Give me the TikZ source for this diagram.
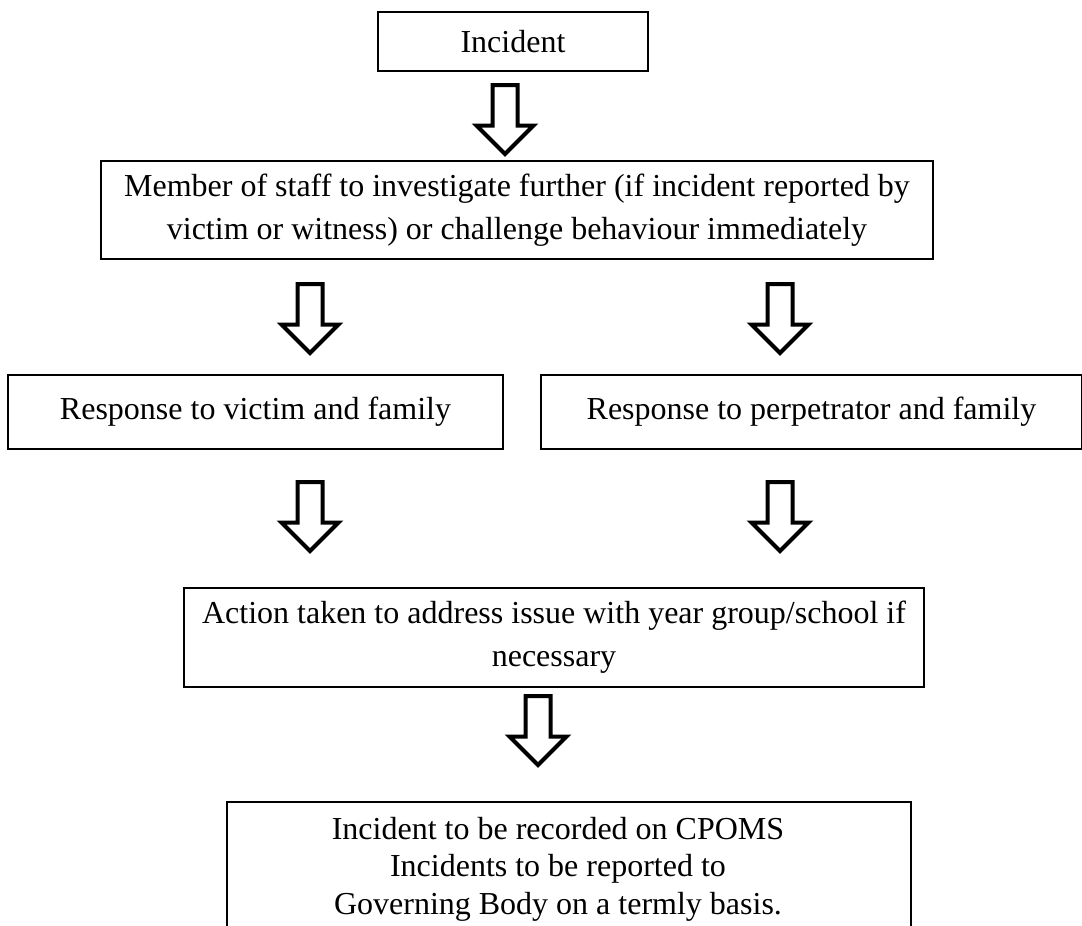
\documentclass[tikz,border=0pt]{standalone}
\usepackage{fontspec}
\setmainfont{Liberation Serif}
\usetikzlibrary{shapes.arrows}

\tikzset{
  box/.style={draw, line width=1.2pt, align=center, inner sep=0pt,
    font=\fontsize{32}{43}\selectfont},
  txt/.style={align=center, inner sep=0pt, font=\fontsize{32}{37.5}\selectfont},
  downarrow/.style={single arrow, draw, line width=4pt, fill=white,
    shape border rotate=270, inner sep=10.5pt, minimum height=69pt,
    minimum width=0pt, single arrow head extend=16pt, anchor=tail}
}

\begin{document}
\begin{tikzpicture}[x=1pt, y=-1pt]
  % page frame
  \clip (0,0) rectangle (1082,926);
  \fill[white] (0,0) rectangle (1082,926);
  % Boxes
  \node[box, minimum width=270pt, minimum height=59pt] (inc) at (513,41.5) {Incident};
  \node[box, minimum width=832pt, minimum height=98pt] (staff) at (517,210)
    {Member of staff to investigate further (if incident reported by\\
     victim or witness) or challenge behaviour immediately};
  \node[box, minimum width=495pt, minimum height=74pt] (victim) at (255.5,412)
    {Response to victim and family};
  \node[box, minimum width=541pt, minimum height=74pt] (perp) at (811.5,412)
    {Response to perpetrator and family};
  \node[box, minimum width=740pt, minimum height=99pt] (action) at (554,637.5)
    {Action taken to address issue with year group/school if\\ necessary};
  % last box runs off the page
  \node[box, minimum width=684pt, minimum height=134pt] (record) at (569,869) {};
  \node[txt] (recordtext) at (558,869)
    {Incident to be recorded on CPOMS\\ Incidents to be reported to\\
     Governing Body on a termly basis.};
  % Block arrows (placed by their tails)
  \node[downarrow] (a1) at (505,83) {};
  \node[downarrow] (a2) at (310,282) {};
  \node[downarrow] (a3) at (780,282) {};
  \node[downarrow] (a4) at (310,480) {};
  \node[downarrow] (a5) at (780,480) {};
  \node[downarrow] (a6) at (538,694) {};
\end{tikzpicture}
\end{document}
